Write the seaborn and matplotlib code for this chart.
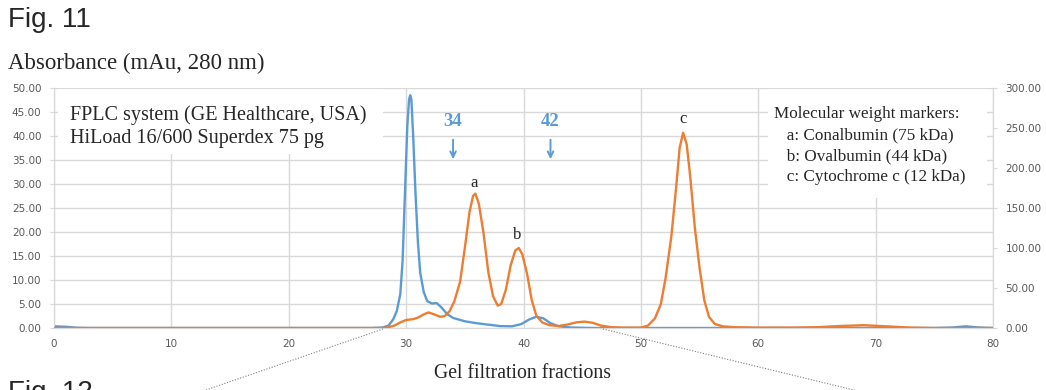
import numpy as np
import pandas as pd
import matplotlib
matplotlib.use("Agg")
import matplotlib.pyplot as plt
from matplotlib.lines import Line2D
from matplotlib.patches import Rectangle
import seaborn as sns

# --- data ---
blue_x = [0, 1, 2, 3, 10, 20, 27, 28, 28.5, 28.9, 29.2, 29.5, 29.7, 29.9, 30.1, 30.25, 30.35,
          30.45, 30.6, 30.8, 31.0, 31.2, 31.5, 31.8, 32.2, 32.6, 33.0, 33.5, 34.0, 35.0,
          36.0, 37.0, 38.0, 39.0, 39.8, 40.5, 41.1, 41.7, 42.3, 43.0, 44, 46, 60, 75,
          76.5, 77.7, 78.8, 80]
blue_y = [0.35, 0.25, 0.05, 0, 0, 0, 0, 0.1, 0.5, 1.8, 3.5, 7, 14, 28, 42, 47.6, 48.5,
          47.5, 40, 28, 18, 11.5, 7.5, 5.6, 5.1, 5.2, 4.3, 2.9, 2.1, 1.4,
          1.0, 0.7, 0.4, 0.35, 0.8, 1.8, 2.35, 2.0, 1.0, 0.35, 0.1, 0, 0, 0,
          0.1, 0.35, 0.1, 0]

orange_x = [0, 10, 20, 28, 28.5, 29.0, 29.5, 30.0, 30.6, 31.0, 31.5, 31.9, 32.4, 32.9,
            33.3, 33.7, 34.1, 34.6, 35.0, 35.4, 35.7, 35.9, 36.2, 36.6, 37.0, 37.4,
            37.8, 38.1, 38.5, 38.9, 39.3, 39.6, 39.9, 40.3, 40.7, 41.1, 41.6, 42.2,
            43.0, 43.8, 44.5, 45.2, 45.9, 46.6, 47.5, 48.5, 50.0, 50.6, 51.2, 51.7,
            52.1, 52.6, 53.0, 53.3, 53.6, 53.9, 54.2, 54.6, 55.0, 55.4, 55.8, 56.3,
            57.0, 58, 60, 63, 65, 67, 69, 71, 73, 75, 80]
orange_y = [0, 0, 0, 0, 1, 3, 7, 10, 11, 13, 17, 19.5, 17, 14,
            15, 21, 33, 58, 100, 145, 165, 168, 155, 118, 70, 40,
            28, 30, 48, 78, 97, 100, 92, 68, 35, 15, 7, 3.5,
            2.5, 4.5, 7, 8, 6.5, 3, 1, 0.5, 0.5, 3, 12, 30,
            62, 115, 175, 225, 244, 230, 190, 125, 75, 35, 14, 5,
            2, 1, 0.5, 0.5, 1, 2.5, 3.5, 2, 0.5, 0, 0]

marker_lines = ["Molecular weight markers:", "   a: Conalbumin (75 kDa)",
                "   b: Ovalbumin (44 kDa)", "   c: Cytochrome c (12 kDa)"]

BLUE = "#5B9BD5"
ORANGE = "#ED7D31"
GRID = "#D9D9D9"
TICK = "#595959"
SERIF = ["Liberation Serif", "DejaVu Serif"]
SANS = ["Liberation Sans", "DejaVu Sans"]

sns.set_style("white")
plt.rcParams["font.family"] = SANS

W, H = 1046, 390
fig = plt.figure(figsize=(W / 100, H / 100), dpi=100)
ax = fig.add_axes([54 / W, 1 - 328 / H, (993 - 54) / W, (328 - 88) / H])
ax2 = ax.twinx()

df_b = pd.DataFrame({"x": blue_x, "y": blue_y})
df_o = pd.DataFrame({"x": orange_x, "y": orange_y})
sns.lineplot(data=df_b, x="x", y="y", ax=ax, color=BLUE, lw=1.7, zorder=3)
sns.lineplot(data=df_o, x="x", y="y", ax=ax2, color=ORANGE, lw=1.7, zorder=3)

ax.set_xlim(0, 80)
ax.set_ylim(0, 50)
ax2.set_ylim(0, 300)
ax.set_xticks(range(0, 81, 10))
ax.set_yticks(np.arange(0, 50.1, 5))
ax2.set_yticks(np.arange(0, 300.1, 50))
ax.set_yticklabels([f"{v:.2f}" for v in np.arange(0, 50.1, 5)])
ax2.set_yticklabels([f"{v:.2f}" for v in np.arange(0, 300.1, 50)])
ax.grid(True, color=GRID, lw=1)
ax.set_axisbelow(True)
ax.set_xlabel("")
ax.set_ylabel("")
ax2.set_ylabel("")
for a in (ax, ax2):
    for s in a.spines.values():
        s.set_color(GRID)
    a.spines["top"].set_visible(False)
    a.tick_params(labelsize=7.5, colors=TICK, length=3, color=GRID)
    for t in a.get_xticklabels() + a.get_yticklabels():
        t.set_family("DejaVu Sans")
ax.tick_params(axis="x", length=0, pad=8)
ax.tick_params(axis="y", pad=6)
ax2.tick_params(axis="y", pad=6)

# white panels behind the text blocks (hide the grid there)
ax.add_patch(Rectangle((0.3, 36.3), 27.7, 13.4, facecolor="white", edgecolor="none", zorder=1))
ax.add_patch(Rectangle((60.8, 27.1), 18.7, 22.6, facecolor="white", edgecolor="none", zorder=1))

ax.text(1.4, 46.5, "FPLC system (GE Healthcare, USA)\nHiLoad 16/600 Superdex 75 pg",
        family=SERIF, fontsize=14.5, va="top", ha="left", linespacing=1.32, zorder=5)
ax.text(61.3, 46.2, "\n".join(marker_lines), family=SERIF, fontsize=12.3,
        va="top", ha="left", linespacing=1.42, zorder=5)

# fraction arrows
for fx in (34, 42.3):
    ax.text(fx, 43.1, f"{fx:.0f}", color=BLUE, fontsize=13.5, fontweight="bold",
            family=SERIF, ha="center", va="center", zorder=6)
    ax.annotate("", xy=(fx, 34.6), xytext=(fx, 39.8),
                arrowprops=dict(arrowstyle="->", color=BLUE, lw=1.4), zorder=6)

for lab, lx, ly in (("a", 35.8, 30.2), ("b", 39.5, 19.4), ("c", 53.6, 43.5)):
    ax.text(lx, ly, lab, family=SERIF, fontsize=12, ha="center", va="center")

fig.text(8 / W, 1 - 20 / H, "Fig. 11", family=SANS, fontsize=20, va="center")
fig.text(8 / W, 1 - 63 / H, "Absorbance (mAu, 280 nm)", family=SERIF, fontsize=16.5, va="center")
fig.text(523 / W, 1 - 374 / H, "Gel filtration fractions", family=SERIF, fontsize=14.2,
         ha="center", va="center")
fig.text(8 / W, 1 - 380 / H, "Fig. 12", family=SANS, fontsize=20, va="top")

# zoom connector lines
for (x0, y0), (x1, y1) in (((383, 329), (200, 392)), ((603, 329), (862, 392))):
    fig.add_artist(Line2D([x0 / W, x1 / W], [1 - y0 / H, 1 - y1 / H],
                          color="#7F7F7F", lw=0.8, ls=(0, (1, 1.5))))

fig.savefig("out.png", dpi=100)
